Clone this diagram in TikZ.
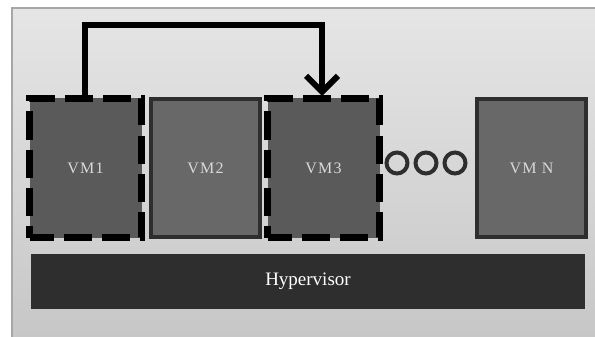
\documentclass[tikz,border=0pt]{standalone}
\usepackage{fontspec}
\setmainfont{Liberation Serif}
\newfontfamily\vmfont[LetterSpace=8]{Liberation Serif}
\usetikzlibrary{arrows.meta}
\definecolor{vmfill}{HTML}{5A5A5A}
\definecolor{vmtwo}{HTML}{686868}
\definecolor{hyp}{HTML}{2E2E2E}
\tikzset{
  vmdash/.style={draw=black, line width=7pt, dash pattern=on 28pt off 10pt, dash phase=4pt, fill=vmfill, minimum width=112pt, minimum height=139pt, inner sep=0pt, text=white!85!black, font=\vmfont\fontsize{16}{19}\selectfont},
  vmsolid/.style={draw=hyp, line width=4.5pt, fill=vmtwo, minimum width=109pt, minimum height=138pt, inner sep=0pt, text=white!85!black, font=\vmfont\fontsize{16}{19}\selectfont},
  dotc/.style={circle, draw=hyp, line width=4pt, minimum size=21pt, inner sep=0pt},
  mig/.style={line width=5.5pt, -{Straight Barb[length=16pt,width=32pt,line width=6pt]}}
}
\begin{document}
\begin{tikzpicture}[x=1pt,y=-1pt]
\useasboundingbox (0,0) rectangle (595,337);
\fill[white] (0,0) rectangle (595,337);
\shade[top color=white!90!black, bottom color=white!78!black, draw=white!65!black, line width=1.2pt] (12,8) rectangle (596,338);
\node[vmsolid] (vm2) at (205.5,168) {VM2};
\node[vmsolid] (vmn) at (531.5,168) {VM N};
\node[vmdash] (vm1) at (85.5,168) {VM1};
\node[vmdash] (vm3) at (323.5,168) {VM3};
\node[dotc] (c1) at (397,163) {};
\node[dotc] (c2) at (426,163) {};
\node[dotc] (c3) at (455,163) {};
\node[fill=hyp, minimum width=554pt, minimum height=55pt, inner sep=0pt, text=white, font=\fontsize{19}{21}\selectfont] (hv) at (308,281.5) {Hypervisor};
\coordinate (a1) at (85,25);
\coordinate (a2) at (322,25);
\draw[mig] (vm1.north -| a1) -- (a1) -- (a2) -- ([yshift=-1pt]vm3.north -| a2);
\end{tikzpicture}
\end{document}
